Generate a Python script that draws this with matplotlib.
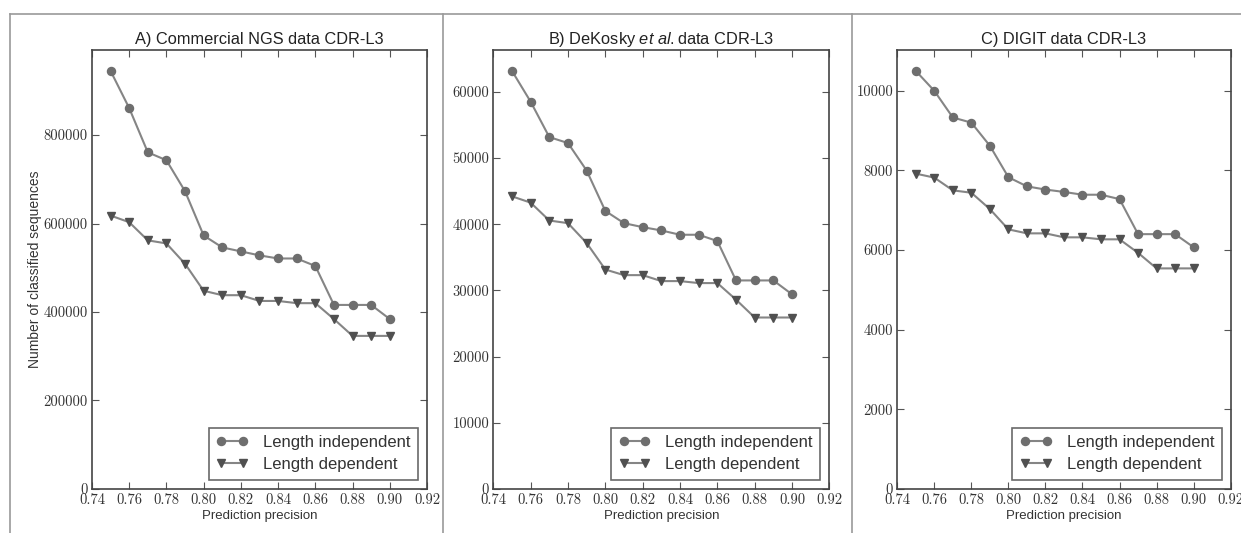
import numpy as np
import matplotlib
matplotlib.use('Agg')
from matplotlib import pyplot as plt
from matplotlib.lines import Line2D

plt.rcParams['font.family'] = ['Liberation Sans', 'DejaVu Sans']
plt.rcParams['mathtext.fontset'] = 'custom'
plt.rcParams['mathtext.rm'] = 'Liberation Sans'
plt.rcParams['mathtext.it'] = 'Liberation Sans:italic'

precision = [0.75, 0.76, 0.77, 0.78, 0.79, 0.80, 0.81, 0.82,
             0.83, 0.84, 0.85, 0.86, 0.87, 0.88, 0.89, 0.90]

ngs_indep = [945000, 861000, 761000, 743000, 673000, 573000, 546000, 537000,
             528000, 521000, 521000, 504000, 416000, 416000, 416000, 384000]
ngs_dep = [618000, 603000, 562000, 555000, 509000, 448000, 438000, 438000,
           425000, 425000, 420000, 420000, 384000, 346000, 346000, 346000]

dekosky_indep = [63150, 58500, 53150, 52250, 48100, 42000, 40150, 39550,
                 39050, 38400, 38400, 37450, 31500, 31500, 31500, 29400]
dekosky_dep = [44200, 43250, 40550, 40150, 37150, 33150, 32300, 32300,
               31400, 31400, 31100, 31100, 28600, 25900, 25900, 25900]

digit_indep = [10500, 10000, 9330, 9200, 8620, 7830, 7600, 7520,
               7460, 7390, 7390, 7280, 6400, 6400, 6400, 6070]
digit_dep = [7920, 7820, 7500, 7440, 7030, 6520, 6420, 6420,
             6320, 6320, 6270, 6270, 5930, 5540, 5540, 5540]

titles = ['A) Commercial NGS data CDR-L3',
          r'B) DeKosky $\mathit{et\ al.}$data CDR-L3',
          'C) DIGIT data CDR-L3']
yticks = [[0, 200000, 400000, 600000, 800000],
          [0, 10000, 20000, 30000, 40000, 50000, 60000],
          [0, 2000, 4000, 6000, 8000, 10000]]
xticks = [0.74, 0.76, 0.78, 0.80, 0.82, 0.84, 0.86, 0.88, 0.90, 0.92]

series = [(ngs_indep, ngs_dep), (dekosky_indep, dekosky_dep), (digit_indep, digit_dep)]
lefts = [0.0741, 0.3975, 0.7230]
widths = [0.2700, 0.2708, 0.2687]

fig = plt.figure(figsize=(12.41, 5.33), dpi=100)

for i in range(3):
    ax = fig.add_axes([lefts[i], 0.0826, widths[i], 0.8236])
    indep, dep = series[i]
    ax.plot(precision, indep, color='#858585', lw=1.5, marker='o', ms=5.8,
            mfc='#6e6e6e', mec='#6e6e6e', label='Length independent')
    ax.plot(precision, dep, color='#858585', lw=1.5, marker='v', ms=6,
            mfc='#505050', mec='#505050', label='Length dependent')
    ax.set_xlim(0.74, 0.92)
    ax.set_ylim(0, max(indep) * 1.05)
    ax.set_xticks(xticks)
    ax.set_xticklabels(['%.2f' % t for t in xticks])
    ax.set_yticks(yticks[i])
    ax.set_yticklabels([str(t) for t in yticks[i]])
    for lab in ax.get_xticklabels() + ax.get_yticklabels():
        lab.set_fontfamily('cmr10')
        lab.set_fontsize(10.5)
        lab.set_color('#333333')
    ax.tick_params(direction='in', length=5, width=0.8, top=True, right=True,
                   color='#555555', pad=3)
    for sp in ax.spines.values():
        sp.set_color('#444444')
        sp.set_linewidth(1.2)
    ax.set_title(titles[i], fontsize=11.8, pad=4, color='#222222')
    ax.set_xlabel('Prediction precision', fontsize=9.5, labelpad=2, color='#333333')
    if i == 0:
        ax.set_ylabel('Number of classified sequences', fontsize=10, labelpad=1,
                      color='#333333')
    leg = ax.legend(loc='lower right', numpoints=2, fontsize=12, fancybox=False,
                    handlelength=1.9, borderaxespad=0.55, handletextpad=0.9,
                    borderpad=0.45, labelspacing=0.42)
    leg.get_frame().set_edgecolor('#444444')
    leg.get_frame().set_linewidth(1.2)
    for t in leg.get_texts():
        t.set_color('#333333')

# page frame lines around the panels
fig.add_artist(Line2D([10 / 1241, 1], [1 - 14 / 533, 1 - 14 / 533], color='#9a9a9a', lw=1.2))
for xp in [10, 443, 852]:
    fig.add_artist(Line2D([xp / 1241, xp / 1241], [0, 1 - 14 / 533], color='#9a9a9a', lw=1.2))

fig.savefig('out.png', dpi=100)
